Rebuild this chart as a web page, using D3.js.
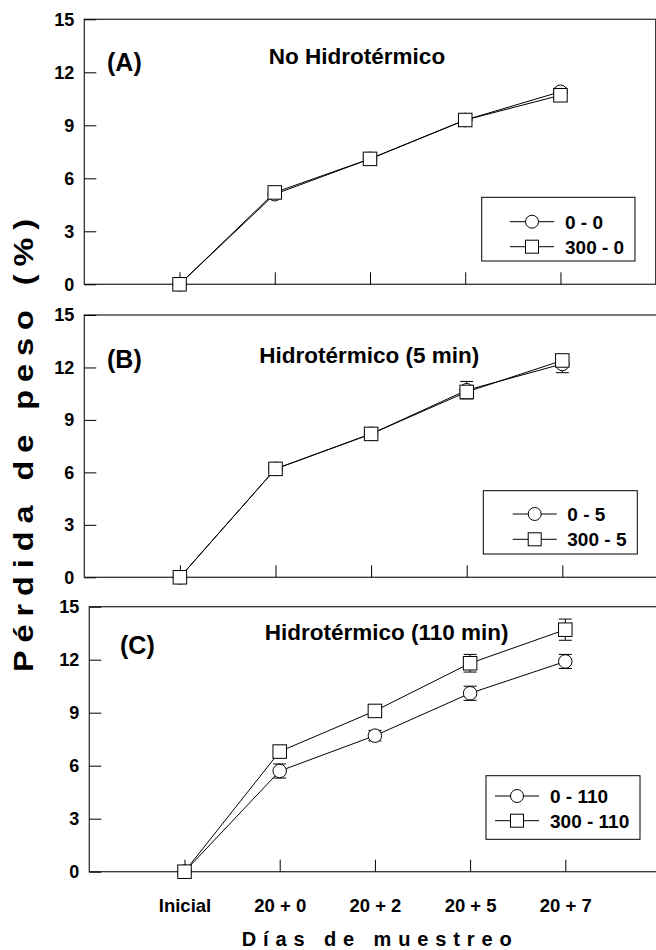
<!DOCTYPE html>
<html>
<head>
<meta charset="utf-8">
<script src="https://cdn.jsdelivr.net/npm/d3@7"></script>
<style>
  body { margin: 0; background: #fff; }
  svg { display: block; }
  text { font-family: "Liberation Sans", Arial, sans-serif; font-weight: bold; fill: #000; }
</style>
</head>
<body>
<svg id="chart" width="656" height="950"></svg>
<script>
// sampling days, shared by the three panels
const categories = ["Inicial", "20 + 0", "20 + 2", "20 + 5", "20 + 7"];
const yTicks = [0, 3, 6, 9, 12, 15];
const titles = ["No Hidrotérmico", "Hidrotérmico (5 min)", "Hidrotérmico (110 min)"];
const tags = ["(A)", "(B)", "(C)"];

// (A) no hydrothermal
const namesA = ["0 - 0", "300 - 0"];
const circA = [0, 5.1, 7.1, 9.3, 10.9];
const circAErr = [0, 0.2, 0.2, 0.2, 0.2];
const sqA = [0, 5.2, 7.1, 9.3, 10.7];
const sqAErr = [0, 0.2, 0.2, 0.2, 0.2];

// (B) hydrothermal 5 min
const namesB = ["0 - 5", "300 - 5"];
const circB = [0, 6.2, 8.2, 10.7, 12.2];
const circBErr = [0, 0.2, 0.2, 0.5, 0.5];
const sqB = [0, 6.2, 8.2, 10.6, 12.4];
const sqBErr = [0, 0.2, 0.2, 0.3, 0.3];

// (C) hydrothermal 110 min
const namesC = ["0 - 110", "300 - 110"];
const circC = [0, 5.7, 7.7, 10.1, 11.9];
const circCErr = [0, 0.4, 0.3, 0.4, 0.4];
const sqC = [0, 6.8, 9.1, 11.8, 13.7];
const sqCErr = [0, 0.3, 0.3, 0.5, 0.6];

// where each panel sits on the page
const panels = [
  { x0: 84.3, x1: 655.7, top: 19.3, bottom: 284.3, title: [357, 64], tag: [107, 70.5],
    legend: { x: 481.7, y: 197.3, w: 153.3, h: 63.7, lineX: 28.3, textX: 83.3, rows: [24.4, 49.4] },
    names: namesA, circ: circA, circErr: circAErr, sq: sqA, sqErr: sqAErr },
  { x0: 84.3, x1: 657.9, top: 315, bottom: 577.3, title: [369.3, 363.3], tag: [107, 368],
    legend: { x: 483.3, y: 490.7, w: 154, h: 63.3, lineX: 29.4, textX: 84, rows: [23.3, 48.6] },
    names: namesB, circ: circB, circErr: circBErr, sq: sqB, sqErr: sqBErr },
  { x0: 89.3, x1: 660.5, top: 606.7, bottom: 871.7, title: [386.7, 640], tag: [120, 654],
    legend: { x: 486, y: 775.7, w: 154, h: 63.6, lineX: 9, textX: 64, rows: [20.3, 45] },
    names: namesC, circ: circC, circErr: circCErr, sq: sqC, sqErr: sqCErr }
];

const svg = d3.select("#chart");
const markerSize = 13.5;
const capW = 13;

function marker(g, shape, cx, cy, size) {
  if (shape === "circle") {
    g.append("circle").attr("cx", cx).attr("cy", cy).attr("r", size / 2)
      .attr("fill", "#fff").attr("stroke", "#000").attr("stroke-width", 1);
  } else {
    g.append("rect").attr("x", cx - size / 2).attr("y", cy - size / 2)
      .attr("width", size).attr("height", size)
      .attr("fill", "#fff").attr("stroke", "#000").attr("stroke-width", 1);
  }
}

panels.forEach((p, k) => {
  const x = d3.scalePoint().domain(categories).range([p.x0, p.x1]).padding(1);
  const y = d3.scaleLinear().domain([0, 15]).range([p.bottom, p.top]);
  const g = svg.append("g");

  g.append("rect")
    .attr("x", p.x0).attr("y", p.top)
    .attr("width", p.x1 - p.x0).attr("height", p.bottom - p.top)
    .attr("fill", "none").attr("stroke", "#333").attr("stroke-width", 1.3);

  const ya = g.append("g").attr("transform", `translate(${p.x0},0)`)
    .call(d3.axisLeft(y).tickValues(yTicks).tickSizeInner(-12).tickSizeOuter(0).tickPadding(10));
  ya.attr("font-size", 18);
  ya.select(".domain").remove();
  ya.selectAll(".tick line").attr("stroke", "#000");

  const xa = g.append("g").attr("transform", `translate(0,${p.bottom})`)
    .call(d3.axisBottom(x).tickSizeInner(-12).tickSizeOuter(0).tickPadding(27)
      .tickFormat(k === 2 ? (d) => d : () => ""));
  xa.attr("font-size", 18.5);
  xa.select(".domain").remove();
  xa.selectAll(".tick line").attr("stroke", "#000");

  g.append("text").attr("x", p.title[0]).attr("y", p.title[1])
    .attr("text-anchor", "middle").attr("font-size", 22.5).text(titles[k]);
  g.append("text").attr("x", p.tag[0]).attr("y", p.tag[1])
    .attr("font-size", 25).text(tags[k]);

  const series = [
    { shape: "circle", vals: p.circ, err: p.circErr },
    { shape: "square", vals: p.sq, err: p.sqErr }
  ];
  const line = d3.line().x((d, i) => x(categories[i])).y((d) => y(d));

  series.forEach((s) => {
    g.append("path").datum(s.vals).attr("d", line)
      .attr("fill", "none").attr("stroke", "#000").attr("stroke-width", 1);
  });
  series.forEach((s) => {
    s.vals.forEach((v, i) => {
      const e = s.err[i];
      if (!e) return;
      const cx = x(categories[i]);
      g.append("line").attr("x1", cx).attr("x2", cx).attr("y1", y(v - e)).attr("y2", y(v + e))
        .attr("stroke", "#000").attr("stroke-width", 1);
      [v - e, v + e].forEach((t) => {
        g.append("line").attr("x1", cx - capW / 2).attr("x2", cx + capW / 2)
          .attr("y1", y(t)).attr("y2", y(t)).attr("stroke", "#000").attr("stroke-width", 1);
      });
    });
  });
  series.forEach((s) => {
    s.vals.forEach((v, i) => marker(g, s.shape, x(categories[i]), y(v), markerSize));
  });

  // legend
  const L = p.legend;
  const lg = g.append("g").attr("transform", `translate(${L.x},${L.y})`);
  lg.append("rect").attr("width", L.w).attr("height", L.h)
    .attr("fill", "#fff").attr("stroke", "#000").attr("stroke-width", 1);
  series.forEach((s, i) => {
    const ry = L.rows[i];
    lg.append("line").attr("x1", L.lineX).attr("x2", L.lineX + 44).attr("y1", ry).attr("y2", ry)
      .attr("stroke", "#000").attr("stroke-width", 1);
    marker(lg, s.shape, L.lineX + 22, ry, 13);
    lg.append("text").attr("x", L.textX).attr("y", ry).attr("dy", "0.36em")
      .attr("font-size", 19).text(p.names[i]);
  });
});

// shared axis titles (glyphs a little wider than normal, as in the original)
svg.append("text")
  .attr("transform", "translate(33,672) rotate(-90) scale(1.2,1)")
  .attr("font-size", 27)
  .attr("textLength", 377.5).attr("lengthAdjust", "spacing")
  .text("Pérdida de peso (%)");

svg.append("text")
  .attr("x", 241.7).attr("y", 946)
  .attr("font-size", 20)
  .attr("textLength", 270).attr("lengthAdjust", "spacing")
  .text("Días de muestreo");
</script>
</body>
</html>
